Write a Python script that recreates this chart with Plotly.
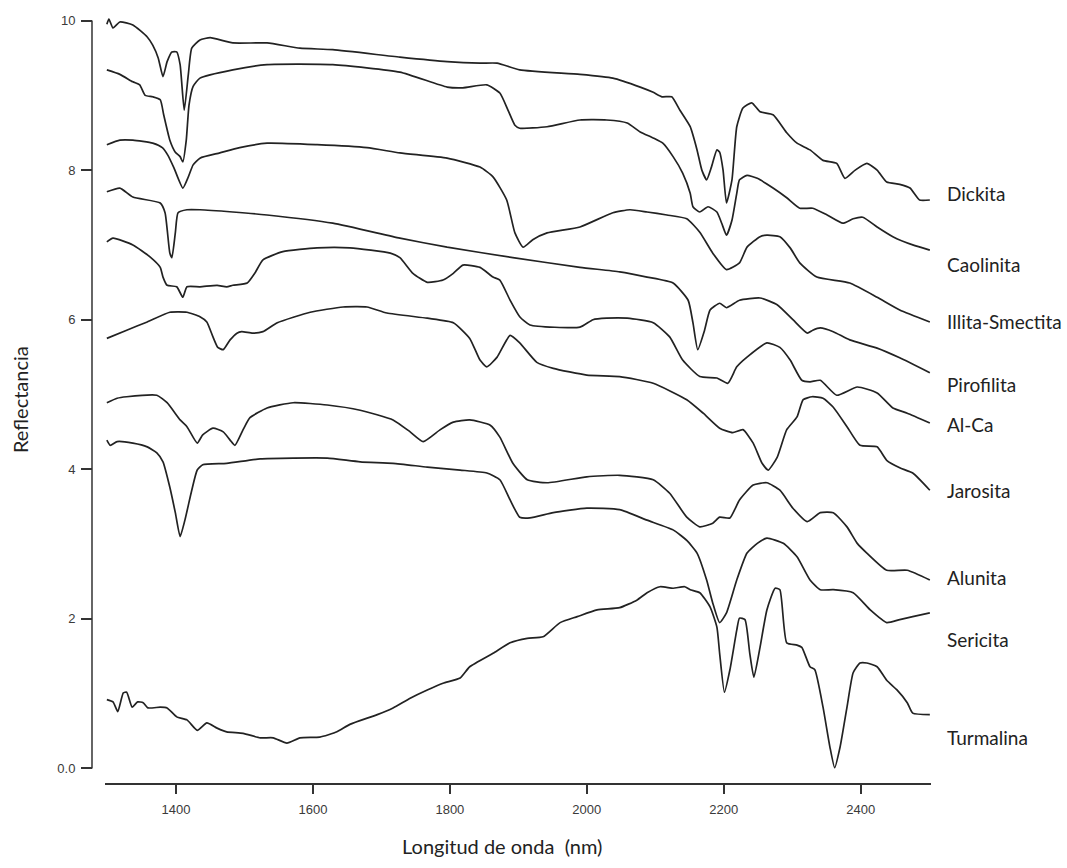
import plotly.graph_objects as go

# ---- data (wavelength nm, reflectance with offset) ----
dickita_wl = [1299,1302,1308,1318,1337,1358,1366,1374,1381,1387,1394,1401,1406,1412,1418,1423,1435,1450,1483,1533,
              1581,1629,1727,1796,1844,1869,1902,1990,2038,2078,2097,2110,2124,2136,2151,2161,2168,2175,2182,2190,
              2194,2199,2204,2212,2219,2228,2241,2253,2272,2292,2307,2326,2345,2365,2377,2392,2409,2424,2438,2457,
              2472,2486,2501]
dickita_r = [9.95,10.02,9.90,9.98,9.94,9.78,9.67,9.50,9.25,9.45,9.58,9.58,9.41,8.80,9.28,9.63,9.74,9.77,9.70,9.70,
             9.63,9.61,9.51,9.45,9.43,9.43,9.34,9.28,9.23,9.11,9.04,8.98,8.98,8.80,8.58,8.27,8.00,7.87,8.04,8.27,
             8.24,8.00,7.56,7.87,8.58,8.83,8.90,8.78,8.74,8.50,8.36,8.27,8.13,8.09,7.89,8.00,8.09,8.00,7.84,7.81,
             7.76,7.60,7.60]

caolinita_wl = [1299,1318,1337,1347,1355,1366,1377,1382,1391,1399,1406,1410,1415,1419,1425,1435,1483,1533,1629,1727,
                1796,1819,1854,1873,1885,1895,1902,1942,1990,2029,2059,2078,2097,2111,2126,2140,2151,2155,2165,2177,
                2190,2197,2204,2212,2219,2223,2234,2249,2272,2292,2311,2330,2351,2374,2389,2403,2424,2447,2476,2501]
caolinita_r = [9.34,9.28,9.18,9.14,9.00,8.98,8.94,8.74,8.40,8.24,8.18,8.11,8.40,8.87,9.12,9.23,9.34,9.41,9.41,9.31,
               9.11,9.10,9.14,9.03,8.80,8.60,8.56,8.58,8.67,8.67,8.63,8.51,8.43,8.36,8.18,7.96,7.69,7.51,7.44,7.51,
               7.44,7.29,7.13,7.33,7.69,7.87,7.93,7.89,7.76,7.63,7.49,7.49,7.40,7.29,7.35,7.37,7.24,7.11,7.00,6.93]

illita_wl = [1299,1318,1337,1366,1380,1388,1397,1410,1418,1425,1435,1464,1493,1533,1606,1679,1727,1796,1844,1863,
             1883,1895,1907,1921,1942,1990,2038,2063,2088,2117,2146,2165,2184,2204,2223,2234,2253,2263,2282,2297,
             2311,2336,2384,2424,2457,2501]
illita_r = [8.34,8.40,8.40,8.36,8.30,8.20,8.03,7.76,7.91,8.07,8.16,8.23,8.30,8.36,8.34,8.30,8.23,8.16,8.04,7.91,
            7.60,7.16,6.97,7.07,7.16,7.24,7.43,7.47,7.44,7.40,7.35,7.17,6.89,6.67,6.76,6.97,7.11,7.13,7.11,6.96,
            6.76,6.57,6.49,6.30,6.13,5.97]

pirofilita_wl = [1299,1318,1337,1377,1384,1391,1394,1399,1403,1416,1435,1483,1533,1629,1727,1796,1892,1990,2048,2088,
                 2126,2148,2155,2162,2172,2180,2194,2204,2223,2253,2278,2301,2322,2330,2341,2360,2384,2424,2457,2501]
pirofilita_r = [7.71,7.76,7.64,7.56,7.43,6.89,6.83,7.16,7.43,7.47,7.47,7.44,7.40,7.29,7.09,6.97,6.83,6.70,6.64,6.57,
                6.49,6.26,5.96,5.60,5.86,6.13,6.22,6.16,6.26,6.29,6.20,6.00,5.82,5.86,5.89,5.84,5.73,5.62,5.49,5.29]

alca_wl = [1299,1308,1337,1362,1377,1381,1387,1401,1410,1416,1435,1460,1474,1483,1504,1515,1527,1556,1606,1654,
           1713,1727,1746,1767,1790,1805,1819,1844,1863,1873,1888,1902,1917,1990,2009,2029,2059,2097,2121,2140,
           2165,2190,2206,2219,2234,2263,2282,2297,2314,2326,2341,2365,2395,2424,2447,2468,2501]
alca_r = [7.04,7.09,7.00,6.84,6.70,6.57,6.46,6.44,6.30,6.44,6.44,6.46,6.44,6.46,6.49,6.62,6.80,6.91,6.96,6.96,
          6.89,6.83,6.62,6.50,6.53,6.62,6.73,6.70,6.57,6.53,6.26,6.04,5.93,5.90,6.00,6.02,6.02,5.96,5.77,5.46,
          5.24,5.22,5.15,5.37,5.50,5.69,5.63,5.46,5.19,5.17,5.19,4.99,5.10,5.02,4.82,4.75,4.62]

jarosita_wl = [1299,1328,1358,1391,1416,1435,1445,1454,1461,1469,1479,1489,1496,1512,1527,1548,1596,1644,1679,1708,
               1767,1805,1829,1844,1854,1869,1888,1902,1927,1951,2000,2048,2097,2146,2170,2194,2213,2228,2243,2256,
               2265,2278,2292,2307,2316,2329,2345,2360,2380,2399,2424,2438,2457,2476,2501]
jarosita_r = [5.75,5.86,5.97,6.10,6.10,6.04,5.97,5.77,5.63,5.60,5.73,5.82,5.84,5.82,5.84,5.96,6.10,6.17,6.17,6.09,
              6.02,5.96,5.75,5.46,5.37,5.50,5.79,5.69,5.43,5.35,5.26,5.24,5.15,4.93,4.75,4.55,4.49,4.53,4.35,4.08,
              3.99,4.16,4.53,4.70,4.93,4.97,4.95,4.83,4.57,4.32,4.30,4.12,4.02,3.95,3.72]

alunita_wl = [1299,1314,1328,1372,1387,1406,1416,1431,1439,1454,1469,1479,1486,1498,1508,1533,1571,1621,1669,1717,
              1742,1761,1786,1805,1829,1859,1873,1892,1913,1942,2000,2048,2097,2121,2146,2165,2184,2194,2209,2223,
              2243,2263,2282,2301,2322,2341,2360,2380,2395,2409,2438,2468,2501]
alunita_r = [4.89,4.95,4.97,4.99,4.89,4.66,4.57,4.35,4.46,4.55,4.50,4.39,4.32,4.53,4.69,4.82,4.89,4.86,4.79,4.66,
             4.50,4.37,4.53,4.63,4.66,4.59,4.43,4.08,3.86,3.82,3.90,3.92,3.86,3.68,3.36,3.23,3.28,3.36,3.35,3.59,
             3.79,3.82,3.72,3.48,3.30,3.42,3.42,3.23,3.01,2.88,2.65,2.65,2.52]

sericita_wl = [1299,1304,1314,1337,1358,1372,1381,1391,1399,1406,1413,1423,1431,1439,1474,1523,1571,1621,1669,1717,
               1767,1815,1854,1873,1888,1902,1917,1951,2000,2048,2088,2126,2146,2161,2175,2184,2194,2204,2219,2234,
               2249,2263,2287,2307,2326,2341,2360,2389,2414,2438,2457,2476,2501]
sericita_r = [4.39,4.32,4.37,4.35,4.30,4.22,4.10,3.76,3.42,3.10,3.32,3.72,3.99,4.06,4.08,4.14,4.15,4.15,4.10,4.08,
              4.03,3.99,3.95,3.86,3.59,3.36,3.35,3.42,3.48,3.46,3.32,3.19,3.05,2.88,2.52,2.21,1.95,2.08,2.52,2.88,
              3.01,3.08,3.01,2.83,2.52,2.39,2.39,2.35,2.12,1.95,1.99,2.03,2.08]

turmalina_wl = [1299,1308,1315,1323,1328,1336,1344,1352,1359,1377,1387,1401,1416,1431,1445,1460,1474,1498,1523,1542,
                1562,1581,1610,1635,1654,1694,1717,1742,1767,1790,1815,1829,1863,1888,1913,1936,1961,1986,2015,2048,
                2073,2088,2107,2126,2143,2151,2165,2180,2190,2194,2201,2209,2219,2223,2231,2238,2244,2253,2263,2275,
                2282,2292,2307,2314,2326,2333,2345,2355,2362,2370,2380,2389,2399,2409,2424,2438,2453,2468,2476,2501]
turmalina_r = [0.92,0.89,0.76,1.01,1.02,0.82,0.89,0.88,0.81,0.82,0.81,0.69,0.65,0.51,0.61,0.54,0.49,0.47,0.41,0.41,
               0.34,0.41,0.42,0.49,0.59,0.72,0.81,0.94,1.05,1.14,1.21,1.36,1.54,1.68,1.74,1.76,1.95,2.03,2.12,2.15,
               2.25,2.35,2.43,2.41,2.43,2.39,2.35,2.16,1.89,1.54,1.02,1.32,1.85,2.01,1.99,1.54,1.22,1.62,2.12,2.41,
               2.39,1.68,1.65,1.62,1.36,1.32,0.82,0.29,0.01,0.29,0.82,1.28,1.41,1.41,1.36,1.18,1.05,0.88,0.74,0.72]

mineral_names = ["Dickita", "Caolinita", "Illita-Smectita", "Pirofilita", "Al-Ca",
                 "Jarosita", "Alunita", "Sericita", "Turmalina"]
series = [(dickita_wl, dickita_r), (caolinita_wl, caolinita_r), (illita_wl, illita_r),
          (pirofilita_wl, pirofilita_r), (alca_wl, alca_r), (jarosita_wl, jarosita_r),
          (alunita_wl, alunita_r), (sericita_wl, sericita_r), (turmalina_wl, turmalina_r)]

x_ticks = [1400, 1600, 1800, 2000, 2200, 2400]
y_ticks = [0, 2, 4, 6, 8, 10]
y_tick_text = ["0.0", "2", "4", "6", "8", "10"]

# label vertical placement (layout)
label_y = [7.69, 6.74, 5.98, 5.13, 4.60, 3.72, 2.55, 1.72, 0.42]

LINE = "#222222"
AXC = "#333333"
TICKFONT = dict(family="Liberation Sans Narrow, Arial Narrow, Liberation Sans, sans-serif", size=13, color="#3a3a3a")
LABFONT = dict(family="Lato, Open Sans, sans-serif", size=19, color="#222222")

fig = go.Figure()
for name, (wl, r) in zip(mineral_names, series):
    fig.add_trace(go.Scatter(x=wl, y=r, mode="lines", name=name,
                             line=dict(color=LINE, width=1.7, shape="spline", smoothing=0.5),
                             showlegend=False))

for name, ly in zip(mineral_names, label_y):
    fig.add_annotation(x=1.0165, xref="paper", y=ly, yref="y", text=name, showarrow=False,
                       xanchor="left", yanchor="middle", font=LABFONT)

fig.add_annotation(x=0.4959, xref="paper", y=-0.082, yref="paper", text="Longitud de onda  (nm)",
                   showarrow=False, xanchor="center", yanchor="middle", font=dict(LABFONT, size=20))
fig.add_annotation(x=-0.0705, xref="paper", y=0.498, yref="paper", text="Reflectancia",
                   showarrow=False, xanchor="center", yanchor="middle", textangle=-90,
                   font=dict(LABFONT, size=20))

# y axis line only spanning 0..10
fig.add_shape(type="line", xref="paper", yref="y", x0=0.0141, x1=0.0141, y0=0, y1=10,
              line=dict(color=AXC, width=1.5))

fig.update_layout(
    width=1067, height=868,
    margin=dict(l=80, r=136, t=14, b=85),
    paper_bgcolor="white", plot_bgcolor="white",
    xaxis=dict(domain=[0.02938, 1], range=[1296.3, 2502.7], showline=True, linecolor=AXC, linewidth=1.5,
               ticks="outside", ticklen=9, tickwidth=1.5, tickcolor=AXC, tickvals=x_ticks,
               showgrid=False, zeroline=False, tickfont=TICKFONT, ticklabelstandoff=5),
    yaxis=dict(range=[-0.194, 10.087], anchor="free", position=0.0141, showline=False,
               ticks="outside", ticklen=11, tickwidth=1.5, tickcolor=AXC, tickvals=y_ticks,
               ticktext=y_tick_text, showgrid=False, zeroline=False, tickfont=TICKFONT,
               ticklabelstandoff=3),
)

fig.write_html("out.html")
